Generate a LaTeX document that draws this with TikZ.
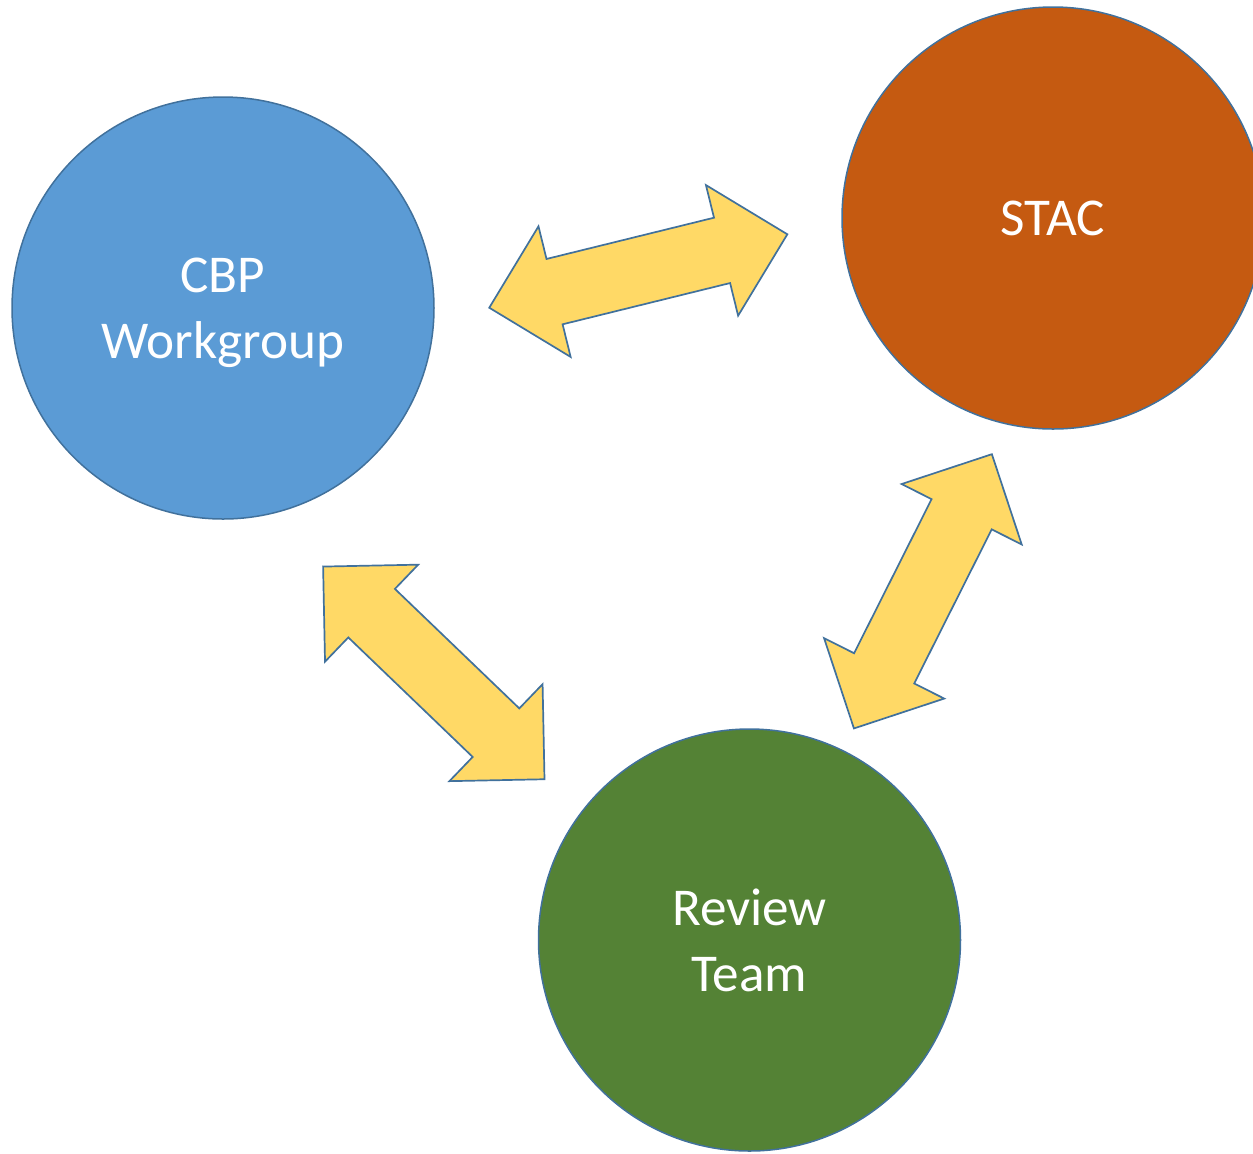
\documentclass[tikz,border=0pt]{standalone}
\usepackage{fontspec}
\setmainfont{Carlito}
\usetikzlibrary{shapes.arrows}
\definecolor{wgblue}{HTML}{5B9BD5}
\definecolor{stacorange}{HTML}{C55A11}
\definecolor{teamgreen}{HTML}{548235}
\definecolor{edgeblue}{HTML}{41719C}
\definecolor{arrowgold}{HTML}{FFD966}

\begin{document}
\begin{tikzpicture}[x=0.5pt,y=-0.5pt,
  group/.style={circle,draw=edgeblue,line width=0.75pt,minimum size=211pt,inner sep=0pt,
    text=white,align=center,text depth=0pt,font=\fontsize{26.6}{33}\selectfont},
  twoway/.style={double arrow,draw=edgeblue,fill=arrowgold,line width=0.85pt,
    double arrow head extend=16.8pt,inner xsep=0pt,inner ysep=16.4pt,
    minimum width=0pt,minimum height=153.5pt}]
  \useasboundingbox (0,0) rectangle (1253,1153);

  % Groups
  \node[group,fill=wgblue] (cbp) at (223,308) {CBP\\Workgroup};
  \node[group,fill=stacorange] (stac) at (1053,218) {STAC};
  \node[group,fill=teamgreen] (review) at (749.5,940) {Review\\Team};

  % Two-way links
  \node[twoway,rotate=13.84] (cbpstac) at (638.3,271) {};
  \node[twoway,rotate=-43.85] (cbpreview) at (433.8,672.9) {};
  \node[twoway,rotate=63.3] (stacreview) at (922.9,591.3) {};
\end{tikzpicture}
\end{document}
